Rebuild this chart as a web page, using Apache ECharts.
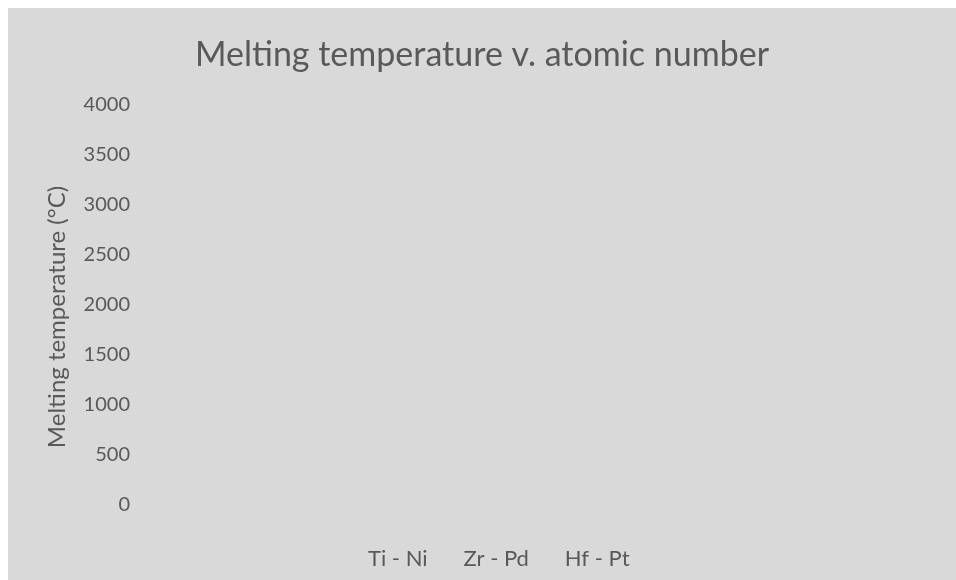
<!DOCTYPE html>
<html>
<head>
<meta charset="utf-8">
<script src="https://cdn.jsdelivr.net/npm/echarts@6/dist/echarts.min.js"></script>
<style>
html,body{margin:0;padding:0;background:#ffffff;width:956px;height:580px;overflow:hidden;}
#c{position:absolute;left:8px;top:8px;width:948px;height:572px;}
</style>
</head>
<body>
<div id="c"></div>
<script>
const titleText = 'Melting temperature v. atomic number';
const yAxisName = 'Melting temperature (°C)';
const seriesNames = ['Ti - Ni', 'Zr - Pd', 'Hf - Pt'];
const tiNi = [];
const zrPd = [];
const hfPt = [];
const yMin = 0, yMax = 4000, yStep = 500;

const chart = echarts.init(document.getElementById('c'));
const font = 'Lato, "Open Sans", sans-serif';
chart.setOption({
  backgroundColor: '#d9d9d9',
  animation: false,
  title: {
    text: titleText,
    left: 'center',
    top: 25,
    textStyle: {fontFamily: font, fontSize: 34, fontWeight: 'normal', color: '#595959'}
  },
  legend: {
    data: seriesNames,
    bottom: 5,
    left: 350,
    itemWidth: 0,
    itemHeight: 0,
    itemGap: 31,
    icon: 'none',
    textStyle: {fontFamily: font, fontSize: 22, color: '#595959'}
  },
  grid: {left: 132, right: 20, top: 97, bottom: 75},
  xAxis: {
    type: 'value',
    axisLine: {show: false}, axisTick: {show: false},
    axisLabel: {show: false}, splitLine: {show: false}
  },
  yAxis: {
    type: 'value',
    min: yMin, max: yMax, interval: yStep,
    name: yAxisName,
    nameLocation: 'middle',
    nameGap: 71,
    nameTextStyle: {fontFamily: font, fontSize: 24, color: '#595959', padding: [0, 24, 0, 0]},
    axisLine: {show: false}, axisTick: {show: false},
    splitLine: {show: false},
    axisLabel: {fontFamily: font, fontSize: 20, color: '#595959', margin: 10,
      formatter: function (v) { return String(v); }}
  },
  series: [
    {name: seriesNames[0], type: 'line', data: tiNi, showSymbol: false},
    {name: seriesNames[1], type: 'line', data: zrPd, showSymbol: false},
    {name: seriesNames[2], type: 'line', data: hfPt, showSymbol: false}
  ]
});
</script>
</body>
</html>
